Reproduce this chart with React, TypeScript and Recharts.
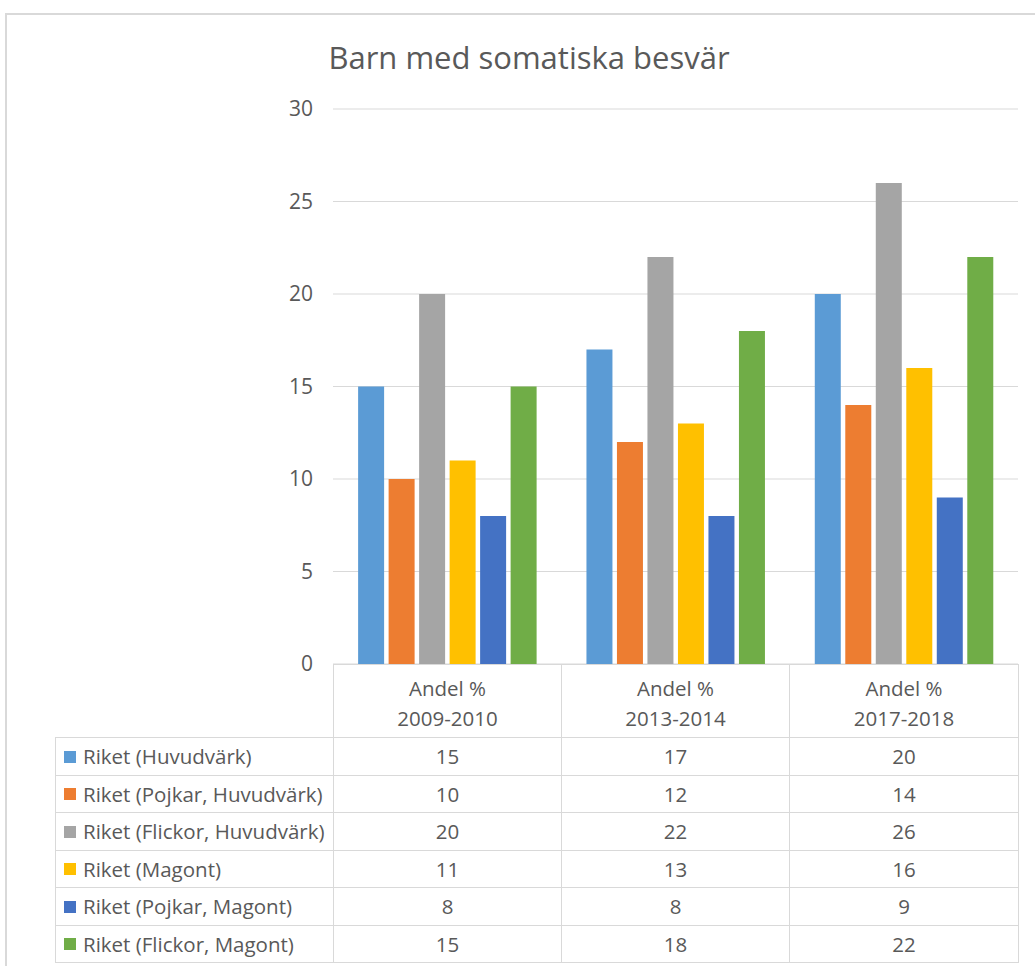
import React from 'react';
import { BarChart, Bar, XAxis, YAxis, CartesianGrid } from 'recharts';

const categories = ['2009-2010', '2013-2014', '2017-2018'];
const seriesNames = [
  'Riket (Huvudvärk)',
  'Riket (Pojkar, Huvudvärk)',
  'Riket (Flickor, Huvudvärk)',
  'Riket (Magont)',
  'Riket (Pojkar, Magont)',
  'Riket (Flickor, Magont)',
];
const huvudvark = [15, 17, 20];
const pojkarHuvudvark = [10, 12, 14];
const flickorHuvudvark = [20, 22, 26];
const magont = [11, 13, 16];
const pojkarMagont = [8, 8, 9];
const flickorMagont = [15, 18, 22];
const yTicks = [0, 5, 10, 15, 20, 25, 30];

const seriesValues = [huvudvark, pojkarHuvudvark, flickorHuvudvark, magont, pojkarMagont, flickorMagont];
const COLORS = ['#5B9BD5', '#ED7D31', '#A5A5A5', '#FFC000', '#4472C4', '#70AD47'];

const data = categories.map((cat, i) => {
  const row: Record<string, string | number> = { cat };
  seriesValues.forEach((vals, s) => {
    row[`s${s}`] = vals[i];
  });
  return row;
});

const FONT = '"Open Sans", "Noto Sans", sans-serif';
const TEXT = '#595959';
const LINE = '1px solid #d9d9d9';

export default function App() {
  return (
    <div style={{ position: 'absolute', left: 0, top: 0, width: 1035, height: 966, background: '#fff', fontFamily: FONT, overflow: 'hidden' }}>
      {/* chart area frame, cut off at right/bottom */}
      <div style={{ position: 'absolute', left: 5, top: 13, width: 1100, height: 1000, borderTop: '2px solid #d9d9d9', borderLeft: '2px solid #d9d9d9' }} />
      <div style={{ position: 'absolute', left: 0, top: 36, width: 1058, textAlign: 'center', fontSize: 31, color: TEXT }}>
        Barn med somatiska besvär
      </div>
      <div style={{ position: 'absolute', left: 0, top: 0 }}>
        <BarChart width={1035} height={690} data={data} margin={{ top: 109, right: 17, bottom: 26, left: 0 }} barGap={4.5} barCategoryGap="11%">
          <CartesianGrid vertical={false} stroke="#d9d9d9" />
          <XAxis dataKey="cat" hide />
          <YAxis
            width={333}
            domain={[0, 30]}
            ticks={yTicks}
            axisLine={false}
            tickLine={false}
            tickSize={0}
            tickMargin={20}
            tick={{ fill: TEXT, fontSize: 21, fontFamily: FONT }}
          />
          {seriesNames.map((name, s) => (
            <Bar key={name} dataKey={`s${s}`} name={name} fill={COLORS[s]} isAnimationActive={false} />
          ))}
        </BarChart>
      </div>
      <table
        style={{
          position: 'absolute',
          left: 55,
          top: 664,
          width: 964,
          borderCollapse: 'collapse',
          tableLayout: 'fixed',
          fontSize: 20.5,
          color: TEXT,
          fontFamily: FONT,
        }}
      >
        <colgroup>
          <col style={{ width: 278 }} />
          <col style={{ width: 228 }} />
          <col style={{ width: 228 }} />
          <col style={{ width: 229 }} />
        </colgroup>
        <tbody>
          <tr style={{ height: 73 }}>
            <td style={{ padding: 0 }} />
            {categories.map((c) => (
              <td key={c} style={{ border: LINE, textAlign: 'center', padding: '3px 0 0 0', lineHeight: '30px' }}>
                Andel %
                <br />
                {c}
              </td>
            ))}
          </tr>
          {seriesNames.map((name, s) => (
            <tr key={name} style={{ height: 37.5 }}>
              <td style={{ border: LINE, padding: '0 0 0 8px', whiteSpace: 'nowrap', overflow: 'visible' }}>
                <span style={{ display: 'inline-block', width: 12, height: 12, background: COLORS[s], marginRight: 7, verticalAlign: 'middle', position: 'relative', top: -2 }} />
                {name}
              </td>
              {seriesValues[s].map((v, i) => (
                <td key={i} style={{ border: LINE, textAlign: 'center', padding: 0 }}>
                  {v}
                </td>
              ))}
            </tr>
          ))}
        </tbody>
      </table>
    </div>
  );
}
